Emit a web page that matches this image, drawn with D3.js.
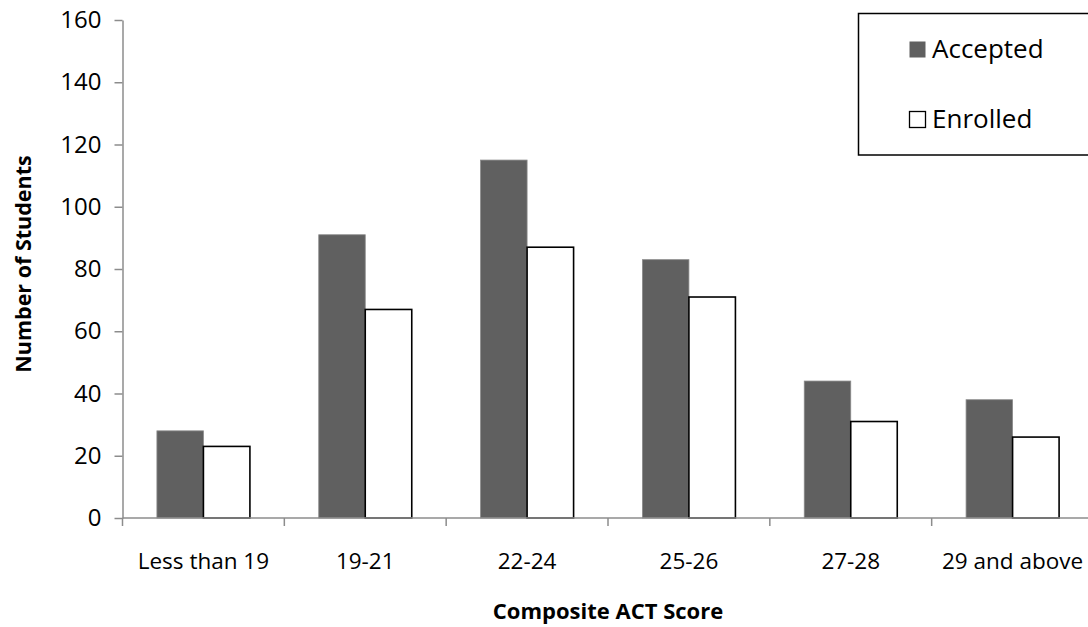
<!DOCTYPE html>
<html>
<head>
<meta charset="utf-8">
<script src="https://cdn.jsdelivr.net/npm/d3@7"></script>
<style>
  html, body { margin: 0; padding: 0; background: #fff; }
  svg { display: block; font-family: "Open Sans", sans-serif; }
</style>
</head>
<body>
<svg id="chart" width="1088" height="627"></svg>
<script>
// Composite ACT score bands and student counts
const categories = ["Less than 19", "19-21", "22-24", "25-26", "27-28", "29 and above"];
const seriesNames = ["Accepted", "Enrolled"];
const accepted = [28, 91, 115, 83, 44, 38];
const enrolled = [23, 67, 87, 71, 31, 26];
const yTicks = [0, 20, 40, 60, 80, 100, 120, 140, 160];

const svg = d3.select("#chart");
const plot = { left: 122.5, right: 1093.5, top: 20, bottom: 518 };

const x = d3.scaleBand().domain(categories).range([plot.left, plot.right]);
const xInner = d3.scaleBand().domain(seriesNames).range([0, x.step()])
  .paddingInner(0).paddingOuter(0.74);
const y = d3.scaleLinear().domain([0, 160]).range([plot.bottom, plot.top]);

const rows = categories.map((c, i) => ({ cat: c, values: [
  { key: "Accepted", value: accepted[i] },
  { key: "Enrolled", value: enrolled[i] }
]}));

const fills = { Accepted: "#606060", Enrolled: "#ffffff" };
const strokes = { Accepted: "#8a8a8a", Enrolled: "#000000" };
const strokeW = { Accepted: 0.8, Enrolled: 1.6 };

// Bars
const groups = svg.append("g").selectAll("g").data(rows).join("g")
  .attr("transform", d => `translate(${x(d.cat)},0)`);
groups.selectAll("rect").data(d => d.values).join("rect")
  .attr("x", d => xInner(d.key))
  .attr("y", d => y(d.value))
  .attr("width", xInner.bandwidth())
  .attr("height", d => y(0) - y(d.value))
  .attr("fill", d => fills[d.key])
  .attr("stroke", d => strokes[d.key])
  .attr("stroke-width", d => strokeW[d.key]);

// Y axis
const yAxis = svg.append("g")
  .attr("transform", `translate(${plot.left},0)`)
  .call(d3.axisLeft(y).tickValues(yTicks).tickSize(8).tickSizeOuter(0).tickPadding(13));
yAxis.select(".domain").attr("stroke", "#8c8c8c").attr("stroke-width", 1.5);
yAxis.selectAll(".tick line").attr("stroke", "#8c8c8c").attr("stroke-width", 1.5);
yAxis.selectAll(".tick text").attr("font-size", 24).attr("fill", "#000")
  .attr("font-family", "'Open Sans', sans-serif");

// X axis: line at zero with ticks between categories
const xAxis = svg.append("g");
xAxis.append("line")
  .attr("x1", plot.left).attr("x2", plot.right)
  .attr("y1", y(0)).attr("y2", y(0))
  .attr("stroke", "#8c8c8c").attr("stroke-width", 1.5);
const boundaries = categories.map(c => x(c)).concat([x(categories[categories.length - 1]) + x.step()]);
xAxis.selectAll("line.tk").data(boundaries).join("line").attr("class", "tk")
  .attr("x1", d => d).attr("x2", d => d)
  .attr("y1", y(0)).attr("y2", y(0) + 8)
  .attr("stroke", "#8c8c8c").attr("stroke-width", 1.5);
xAxis.selectAll("text").data(categories).join("text")
  .attr("x", d => x(d) + x.step() / 2)
  .attr("y", 569)
  .attr("text-anchor", "middle")
  .attr("font-size", 22.5)
  .attr("fill", "#000")
  .text(d => d);

// Axis titles
svg.append("text")
  .attr("x", 608).attr("y", 619)
  .attr("text-anchor", "middle")
  .attr("font-size", 22).attr("font-weight", "bold")
  .text("Composite ACT Score");
svg.append("text")
  .attr("transform", "translate(31,264) rotate(-90)")
  .attr("text-anchor", "middle")
  .attr("font-size", 21.5).attr("font-weight", "bold")
  .text("Number of Students");

// Legend
const legend = svg.append("g");
legend.append("rect")
  .attr("x", 858.5).attr("y", 13.5).attr("width", 240).attr("height", 141.5)
  .attr("fill", "#fff").attr("stroke", "#000").attr("stroke-width", 1.5);
const legendY = { Accepted: 41, Enrolled: 111 };
seriesNames.forEach(name => {
  legend.append("rect")
    .attr("x", 909.5).attr("y", legendY[name] + 0.5).attr("width", 16).attr("height", 16)
    .attr("fill", fills[name])
    .attr("stroke", name === "Enrolled" ? "#000" : "none")
    .attr("stroke-width", 1.3);
  legend.append("text")
    .attr("x", 932).attr("y", legendY[name] + 17)
    .attr("font-size", 26).attr("fill", "#000")
    .text(name);
});
</script>
</body>
</html>
